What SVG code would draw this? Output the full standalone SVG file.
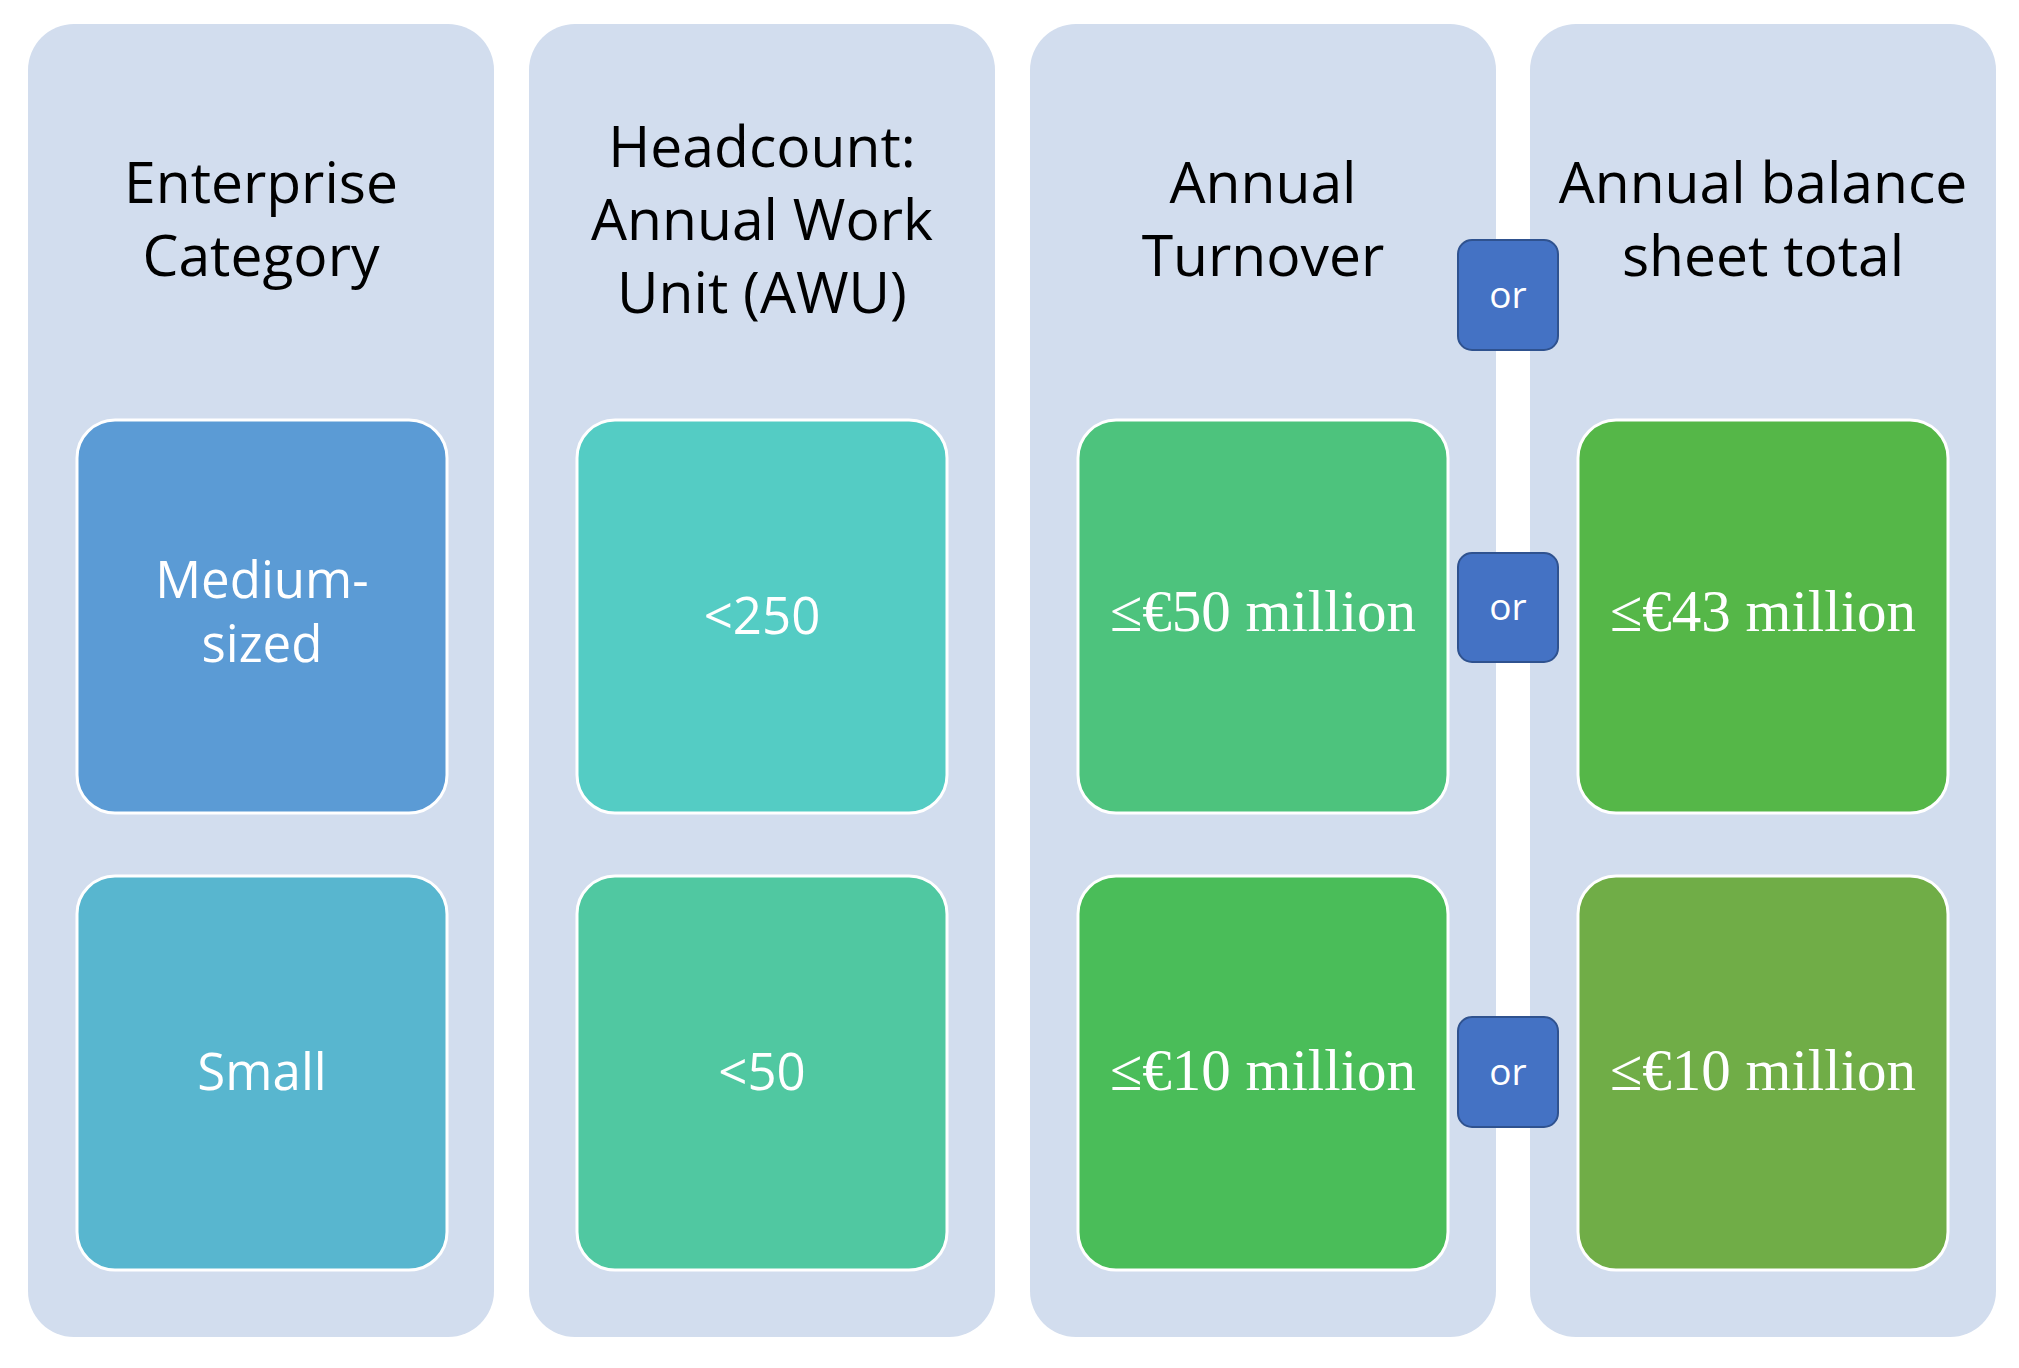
<svg xmlns="http://www.w3.org/2000/svg" width="2019" height="1368" viewBox="0 0 2019 1368">
<style>
.col{fill:#D2DDEE}
.box{stroke:#FFFFFF;stroke-width:3}
.head{font-family:"Open Sans","Liberation Sans",sans-serif;font-size:57px;fill:#000000;text-anchor:middle}
.lbl{font-family:"Open Sans","Liberation Sans",sans-serif;font-size:51px;fill:#FFFFFF;text-anchor:middle}
.money{font-family:"Liberation Serif","Times New Roman",serif;font-size:59px;fill:#FFFFFF;text-anchor:middle}
.orbox{fill:#4472C4;stroke:#2F528F;stroke-width:2}
.ortxt{font-family:"Open Sans","Liberation Sans",sans-serif;font-size:37px;fill:#FFFFFF;text-anchor:middle}
</style>
<rect width="2019" height="1368" fill="#FFFFFF"/>
<g id="col-enterprise">
<rect class="col" x="28" y="24" width="466" height="1313" rx="46"/>
<text class="head" x="261" y="203">Enterprise</text>
<text class="head" x="261" y="276">Category</text>
</g>
<g id="col-headcount">
<rect class="col" x="529" y="24" width="466" height="1313" rx="46"/>
<text class="head" x="762" y="167">Headcount:</text>
<text class="head" x="762" y="240">Annual Work</text>
<text class="head" x="762" y="313">Unit (AWU)</text>
</g>
<g id="col-turnover">
<rect class="col" x="1030" y="24" width="466" height="1313" rx="46"/>
<text class="head" x="1263" y="203">Annual</text>
<text class="head" x="1263" y="276">Turnover</text>
</g>
<g id="col-balance">
<rect class="col" x="1530" y="24" width="466" height="1313" rx="46"/>
<text class="head" x="1763" y="203">Annual balance</text>
<text class="head" x="1763" y="276">sheet total</text>
</g>
<g id="medium">
<rect class="box" x="77" y="420" width="370" height="393" rx="38" fill="#5B9BD5"/>
<text class="lbl" x="262" y="598">Medium-</text>
<text class="lbl" x="262" y="662">sized</text>
</g>
<g id="small">
<rect class="box" x="77" y="876" width="370" height="394" rx="38" fill="#58B6CF"/>
<text class="lbl" x="262" y="1090">Small</text>
</g>
<g id="hc-250">
<rect class="box" x="577" y="420" width="370" height="393" rx="38" fill="#54CCC4"/>
<text class="lbl" x="762" y="634">&lt;250</text>
</g>
<g id="hc-50">
<rect class="box" x="577" y="876" width="370" height="394" rx="38" fill="#50C8A1"/>
<text class="lbl" x="762" y="1090">&lt;50</text>
</g>
<g id="to-50">
<rect class="box" x="1078" y="420" width="370" height="393" rx="38" fill="#4DC37D"/>
<text class="money" x="1263" y="631">≤€50 million</text>
</g>
<g id="to-10">
<rect class="box" x="1078" y="876" width="370" height="394" rx="38" fill="#4ABD59"/>
<text class="money" x="1263" y="1090">≤€10 million</text>
</g>
<g id="bs-43">
<rect class="box" x="1578" y="420" width="370" height="393" rx="38" fill="#55B748"/>
<text class="money" x="1763" y="631">≤€43 million</text>
</g>
<g id="bs-10">
<rect class="box" x="1578" y="876" width="370" height="394" rx="38" fill="#70AD47"/>
<text class="money" x="1763" y="1090">≤€10 million</text>
</g>
<g id="or-1">
<rect class="orbox" x="1458" y="240" width="100" height="110" rx="14"/>
<text class="ortxt" x="1508" y="308">or</text>
</g>
<g id="or-2">
<rect class="orbox" x="1458" y="553" width="100" height="109" rx="14"/>
<text class="ortxt" x="1508" y="620">or</text>
</g>
<g id="or-3">
<rect class="orbox" x="1458" y="1017" width="100" height="110" rx="14"/>
<text class="ortxt" x="1508" y="1085">or</text>
</g>
<g id="connectors"></g>
</svg>
